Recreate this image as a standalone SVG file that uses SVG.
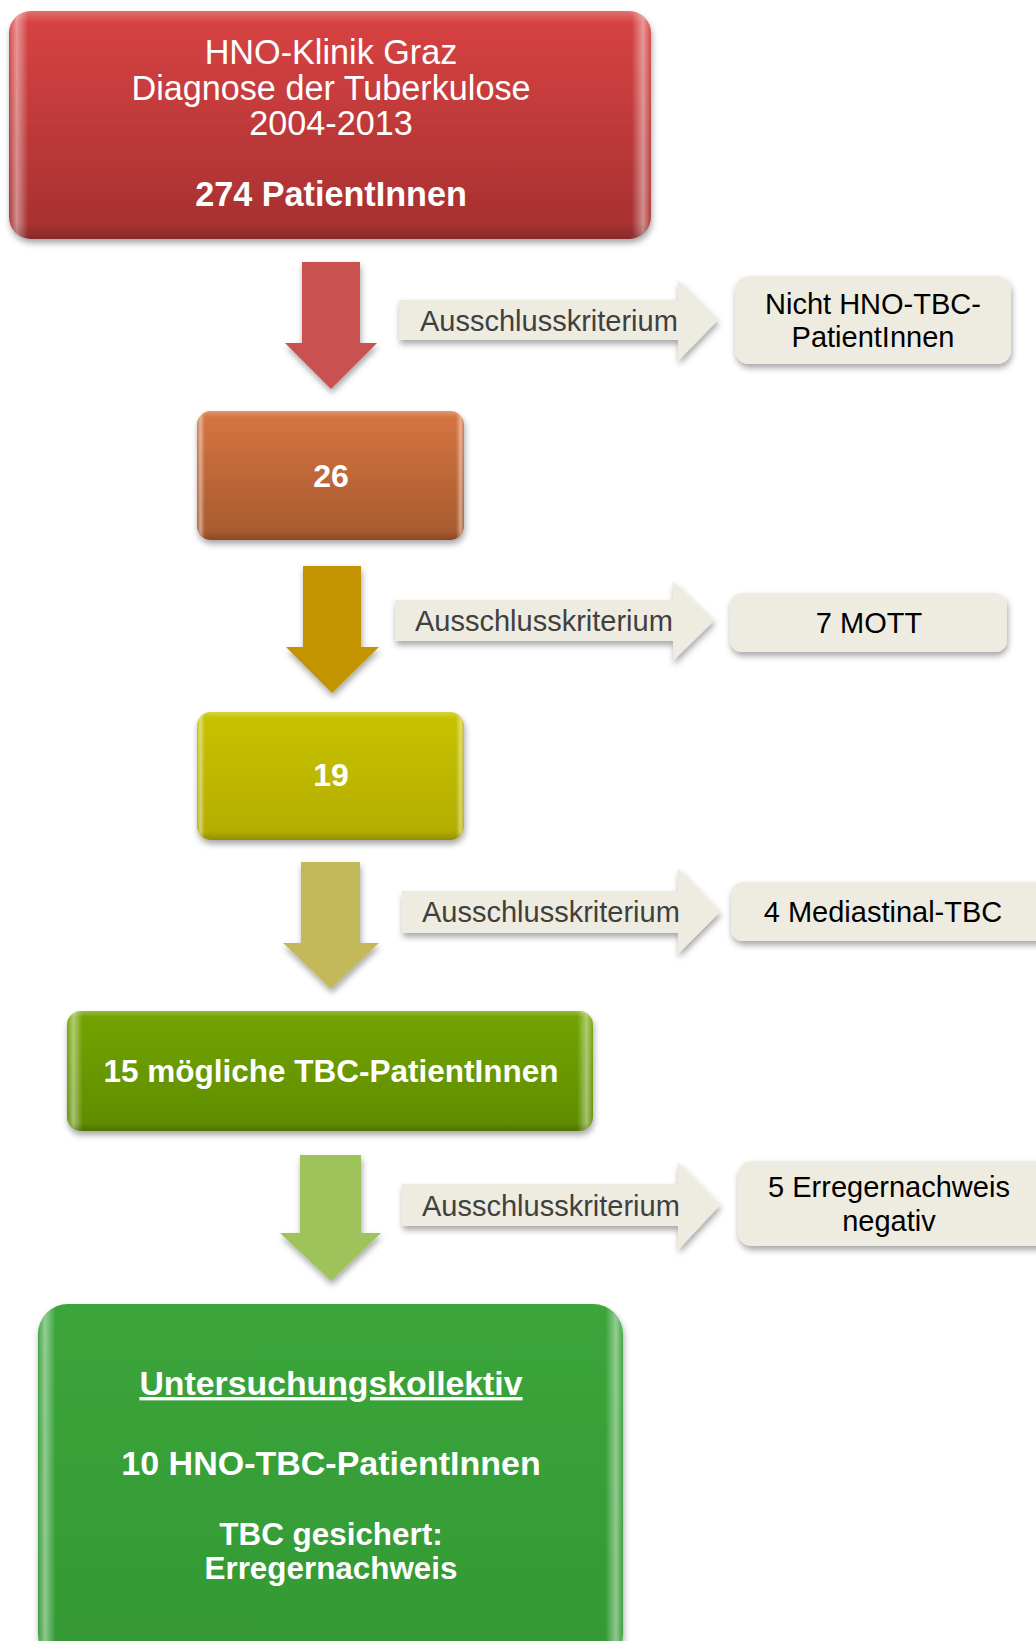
<svg xmlns="http://www.w3.org/2000/svg" width="1036" height="1641" viewBox="0 0 1036 1641">
<defs>
<filter id="sh" x="-10%" y="-10%" width="120%" height="130%">
<feDropShadow dx="1" dy="4" stdDeviation="3" flood-color="#000" flood-opacity="0.35"/>
</filter>
<linearGradient id="gRed" x1="0" y1="0" x2="0" y2="1"><stop offset="0" stop-color="#D94343"/><stop offset="1" stop-color="#A53030"/></linearGradient>
<linearGradient id="gOrange" x1="0" y1="0" x2="0" y2="1"><stop offset="0" stop-color="#D67542"/><stop offset="1" stop-color="#A6592E"/></linearGradient>
<linearGradient id="gYellow" x1="0" y1="0" x2="0" y2="1"><stop offset="0" stop-color="#C8C300"/><stop offset="1" stop-color="#B3AC00"/></linearGradient>
<linearGradient id="gLime" x1="0" y1="0" x2="0" y2="1"><stop offset="0" stop-color="#72A400"/><stop offset="1" stop-color="#5F8C00"/></linearGradient>
<linearGradient id="gGreen" x1="0" y1="0" x2="0" y2="1"><stop offset="0" stop-color="#3BA53B"/><stop offset="1" stop-color="#349934"/></linearGradient>
<linearGradient id="bevel" x1="0" y1="0" x2="1" y2="0">
<stop offset="0" stop-color="#fff" stop-opacity="0.05"/>
<stop offset="0.012" stop-color="#fff" stop-opacity="0.45"/>
<stop offset="0.03" stop-color="#fff" stop-opacity="0"/>
<stop offset="0.97" stop-color="#fff" stop-opacity="0"/>
<stop offset="0.988" stop-color="#fff" stop-opacity="0.45"/>
<stop offset="1" stop-color="#fff" stop-opacity="0.05"/>
</linearGradient>
<linearGradient id="bevelV" x1="0" y1="0" x2="0" y2="1">
<stop offset="0" stop-color="#fff" stop-opacity="0.25"/>
<stop offset="0.05" stop-color="#fff" stop-opacity="0"/>
<stop offset="0.93" stop-color="#000" stop-opacity="0"/>
<stop offset="1" stop-color="#000" stop-opacity="0.18"/>
</linearGradient>
</defs>
<style>
.box{filter:url(#sh);}
.t{font-family:"Liberation Sans",Arial,sans-serif;fill:#fff;text-anchor:middle;}
.b{font-weight:bold;}
.g{fill:#EEECE1;filter:url(#sh);}
.gt{font-family:"Liberation Sans",Arial,sans-serif;font-size:29px;fill:#000;text-anchor:middle;}
.at{font-family:"Liberation Sans",Arial,sans-serif;font-size:29px;fill:#404040;}
</style>
<rect width="1036" height="1641" fill="#fff"/>

<g id="connectors">
<polygon class="box" fill="#C95150" points="302,262 360,262 360,343 377,343 331,389 285,343 302,343"/>
<polygon class="box" fill="#C39400" points="303,566 361,566 361,647 379,647 332,693 286,647 303,647"/>
<polygon class="box" fill="#C4B95A" points="301,862 360,862 360,943 379,943 331,989 283,943 301,943"/>
<polygon class="box" fill="#9DC35A" points="300,1155 361,1155 361,1233 381,1233 331,1281 280,1233 300,1233"/>

<g id="excl1"><polygon class="g" points="399,300 678,300 678,280 718,320 678,361 678,340 399,340"/><text class="at" x="420" y="331">Ausschlusskriterium</text></g>
<g id="excl2"><polygon class="g" points="395,600 673,600 673,581 714,620.5 673,661 673,641 395,641"/><text class="at" x="415" y="631">Ausschlusskriterium</text></g>
<g id="excl3"><polygon class="g" points="402,891 678,891 678,868 720,912 678,954 678,933 402,933"/><text class="at" x="422" y="922">Ausschlusskriterium</text></g>
<g id="excl4"><polygon class="g" points="402,1184 678,1184 678,1162 720,1205 678,1250 678,1226 402,1226"/><text class="at" x="422" y="1216">Ausschlusskriterium</text></g>
</g>

<g id="n-start">
<rect class="box" x="9" y="11" width="642" height="228" rx="22" fill="url(#gRed)"/>
<rect x="9" y="11" width="642" height="228" rx="22" fill="url(#bevel)"/>
<rect x="9" y="11" width="642" height="228" rx="22" fill="url(#bevelV)"/>
<text class="t" x="331" y="64" font-size="34.2">HNO-Klinik Graz</text>
<text class="t" x="331" y="100" font-size="34.2">Diagnose der Tuberkulose</text>
<text class="t" x="331" y="135" font-size="34.2">2004-2013</text>
<text class="t b" x="331" y="206" font-size="34.2">274 PatientInnen</text>
</g>

<g id="n-26">
<rect class="box" x="197" y="411" width="267" height="129" rx="14" fill="url(#gOrange)"/>
<rect x="197" y="411" width="267" height="129" rx="14" fill="url(#bevel)"/>
<rect x="197" y="411" width="267" height="129" rx="14" fill="url(#bevelV)"/>
<text class="t b" x="331" y="487" font-size="32">26</text>
</g>

<g id="n-19">
<rect class="box" x="197" y="712" width="267" height="128" rx="14" fill="url(#gYellow)"/>
<rect x="197" y="712" width="267" height="128" rx="14" fill="url(#bevel)"/>
<rect x="197" y="712" width="267" height="128" rx="14" fill="url(#bevelV)"/>
<text class="t b" x="331" y="786" font-size="32">19</text>
</g>

<g id="n-15">
<rect class="box" x="67" y="1011" width="526" height="120" rx="14" fill="url(#gLime)"/>
<rect x="67" y="1011" width="526" height="120" rx="14" fill="url(#bevel)"/>
<rect x="67" y="1011" width="526" height="120" rx="14" fill="url(#bevelV)"/>
<text class="t b" x="331" y="1082" font-size="31.5">15 mögliche TBC-PatientInnen</text>
</g>

<g id="n-final">
<rect class="box" x="38" y="1304" width="585" height="360" rx="30" fill="url(#gGreen)"/>
<rect x="38" y="1304" width="585" height="360" rx="30" fill="url(#bevel)"/>
<text class="t b" x="331" y="1395" font-size="33.8" text-decoration="underline">Untersuchungskollektiv</text>
<text class="t b" x="331" y="1475" font-size="34">10 HNO-TBC-PatientInnen</text>
<text class="t b" x="331" y="1545" font-size="31.4">TBC gesichert:</text>
<text class="t b" x="331" y="1579" font-size="31.4">Erregernachweis</text>
</g>

<g id="x-nicht">
<rect class="g" x="735" y="276" width="276" height="88" rx="14"/>
<text class="gt" x="873" y="314">Nicht HNO-TBC-</text>
<text class="gt" x="873" y="347">PatientInnen</text>
</g>
<g id="x-mott">
<rect class="g" x="730" y="593" width="277" height="59" rx="12"/>
<text class="gt" x="869" y="633">7 MOTT</text>
</g>
<g id="x-med">
<rect class="g" x="731" y="882" width="320" height="59" rx="12"/>
<text class="gt" x="883" y="922">4 Mediastinal-TBC</text>
</g>
<g id="x-neg">
<rect class="g" x="738" y="1161" width="320" height="85" rx="14"/>
<text class="gt" x="889" y="1197">5 Erregernachweis</text>
<text class="gt" x="889" y="1231">negativ</text>
</g>
</svg>
